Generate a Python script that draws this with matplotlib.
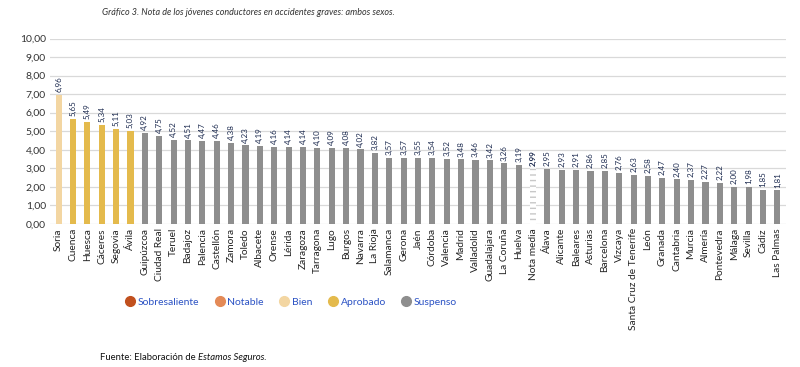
import matplotlib.pyplot as plt
from matplotlib.lines import Line2D

plt.rcParams["font.family"] = ["Lato", "DejaVu Sans"]

# Provinces and their average score
provincias = [
    "Soria", "Cuenca", "Huesca", "Cáceres", "Segovia", "Ávila", "Guipúzcoa",
    "Ciudad Real", "Teruel", "Badajoz", "Palencia", "Castellón", "Zamora",
    "Toledo", "Albacete", "Orense", "Lérida", "Zaragoza", "Tarragona", "Lugo",
    "Burgos", "Navarra", "La Rioja", "Salamanca", "Gerona", "Jaén", "Córdoba",
    "Valencia", "Madrid", "Valladolid", "Guadalajara", "La Coruña", "Huelva",
    "Nota media", "Álava", "Alicante", "Baleares", "Asturias", "Barcelona",
    "Vizcaya", "Santa Cruz de Tenerife", "León", "Granada", "Cantabria",
    "Murcia", "Almería", "Pontevedra", "Málaga", "Sevilla", "Cádiz", "Las Palmas",
]
notas = [
    6.96, 5.65, 5.49, 5.34, 5.11, 5.03, 4.92, 4.75, 4.52, 4.51, 4.47, 4.46,
    4.38, 4.23, 4.19, 4.16, 4.14, 4.14, 4.10, 4.09, 4.08, 4.02, 3.82, 3.57,
    3.57, 3.55, 3.54, 3.52, 3.48, 3.46, 3.42, 3.26, 3.19, 2.99, 2.95, 2.93,
    2.91, 2.86, 2.85, 2.76, 2.63, 2.58, 2.47, 2.40, 2.37, 2.27, 2.22, 2.00,
    1.98, 1.85, 1.81,
]

categorias = ["Sobresaliente", "Notable", "Bien", "Aprobado", "Suspenso"]
colores_cat = ["#C1501E", "#E48A57", "#F3D6A2", "#E4BA4C", "#8E8E8E"]


def categoria(v):
    if v >= 9:
        return 0
    if v >= 7:
        return 1
    if v >= 6:
        return 2
    if v >= 5:
        return 3
    return 4


# Soria 6,96 is shown as "Bien" in the source
colores = []
for p, v in zip(provincias, notas):
    c = 2 if v >= 6.5 else categoria(v)
    colores.append(colores_cat[c])

fig = plt.figure(figsize=(8, 3.67), dpi=100)
ax = fig.add_axes([0.0625, 0.39, 0.92, 0.505])

x = range(len(provincias))
for i, (p, v, c) in enumerate(zip(provincias, notas, colores)):
    if p == "Nota media":
        ax.bar(i, v, width=0.42, color="white", edgecolor="#c8c8c8",
               linewidth=0, hatch="---", zorder=2)
    else:
        ax.bar(i, v, width=0.42, color=c, zorder=2)
    lbl = f"{v:.2f}".replace(".", ",")
    ax.text(i, v + 0.15, lbl, rotation=90, ha="center", va="bottom",
            fontsize=5.8, color="#1c2a4f",
            fontweight="bold" if p == "Nota media" else "normal")

ax.set_ylim(0, 10)
ax.set_xlim(-0.6, len(provincias) - 0.4)
ax.set_yticks(range(0, 11))
ax.set_yticklabels([f"{t},00" for t in range(0, 11)], fontsize=7.5, color="#333333")
ax.set_xticks(list(x))
ax.set_xticklabels(provincias, rotation=90, fontsize=7.3, color="#222222")
ax.tick_params(length=0, pad=3)
ax.yaxis.grid(True, color="#d9d9d9", linewidth=0.9, zorder=0)
for s in ax.spines.values():
    s.set_visible(False)

fig.text(0.31, 0.965, "Gráfico 3. Nota de los jóvenes conductores en accidentes graves: ambos sexos.",
         ha="center", va="center", fontsize=6.5, style="italic", color="#333333")

handles = [Line2D([], [], marker="o", linestyle="", markersize=7,
                  markerfacecolor=c, markeredgecolor=c) for c in colores_cat]
leg = fig.legend(handles, categorias, loc="center", bbox_to_anchor=(0.364, 0.177),
                 ncol=5, frameon=False, fontsize=7.5, handletextpad=0.3,
                 columnspacing=1.5, handlelength=0.9)
for t in leg.get_texts():
    t.set_color("#2b52c4")

fig.text(0.125, 0.025, "Fuente: Elaboración de ", fontsize=6.8, color="#111111", va="center")
fig.text(0.248, 0.025, "Estamos Seguros.", fontsize=6.8, style="italic", color="#111111", va="center")

fig.savefig("out.png", dpi=100)
plt.close()
